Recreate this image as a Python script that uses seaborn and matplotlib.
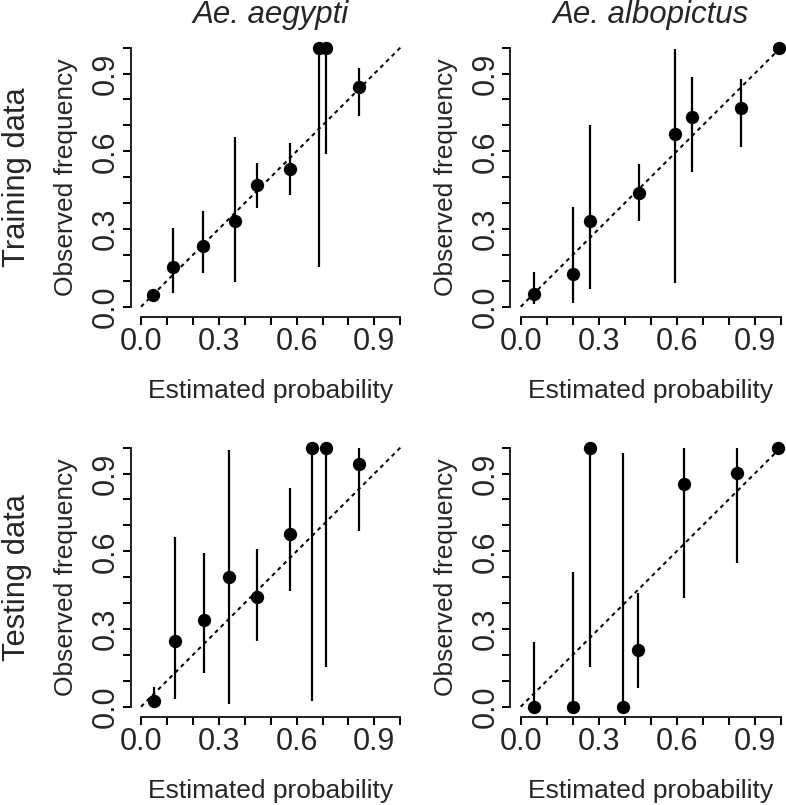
import numpy as np
import pandas as pd
import matplotlib
matplotlib.use("Agg")
import matplotlib.pyplot as plt
import seaborn as sns

# Ae. aegypti - training data
aeg_train_est = [0.048, 0.122, 0.240, 0.362, 0.447, 0.575, 0.688, 0.713, 0.842]
aeg_train_obs = [0.045, 0.154, 0.236, 0.332, 0.468, 0.532, 1.0, 1.0, 0.847]
aeg_train_lo = [np.nan, 0.054, 0.129, 0.094, 0.380, 0.431, 0.154, 0.588, 0.736]
aeg_train_hi = [np.nan, 0.305, 0.371, 0.654, 0.553, 0.631, 1.0, 1.0, 0.920]

# Ae. albopictus - training data
alb_train_est = [0.051, 0.200, 0.268, 0.456, 0.594, 0.660, 0.847, 0.994]
alb_train_obs = [0.048, 0.125, 0.332, 0.440, 0.668, 0.731, 0.766, 1.0]
alb_train_lo = [0.009, 0.013, 0.069, 0.332, 0.090, 0.519, 0.618, np.nan]
alb_train_hi = [0.133, 0.386, 0.703, 0.550, 0.994, 0.885, 0.879, np.nan]

# Ae. aegypti - testing data
aeg_test_est = [0.049, 0.130, 0.242, 0.341, 0.447, 0.575, 0.658, 0.712, 0.842]
aeg_test_obs = [0.021, 0.252, 0.333, 0.501, 0.425, 0.668, 1.0, 1.0, 0.937]
aeg_test_lo = [0.0, 0.028, 0.131, 0.010, 0.252, 0.445, 0.022, 0.154, 0.678]
aeg_test_hi = [0.075, 0.654, 0.592, 0.991, 0.610, 0.846, 1.0, 1.0, 1.0]

# Ae. albopictus - testing data
alb_test_est = [0.051, 0.200, 0.268, 0.392, 0.450, 0.628, 0.831, 0.991]
alb_test_obs = [0.0, 0.0, 1.0, 0.0, 0.219, 0.858, 0.903, 1.0]
alb_test_lo = [0.0, 0.0, 0.154, 0.0, 0.073, 0.420, 0.553, np.nan]
alb_test_hi = [0.248, 0.521, 1.0, 0.981, 0.440, 1.0, 1.0, np.nan]

species = ["Ae. aegypti", "Ae. albopictus"]
rows = ["Training data", "Testing data"]
tick_vals = [round(0.1 * i, 1) for i in range(11)]
tick_text = ["0.0", "", "", "0.3", "", "", "0.6", "", "", "0.9", ""]

sns.set_style("ticks")
plt.rcParams["font.family"] = ["Liberation Sans", "DejaVu Sans"]

W, H = 786, 805
fig = plt.figure(figsize=(W / 100, H / 100), dpi=100)

# axes boxes in pixels (left, top, right, bottom)
boxes = [
    [(130.6, 37.3, 410.7, 317.1), (510.3, 37.3, 791.1, 317.1)],
    [(130.6, 437.3, 410.7, 717.1), (510.3, 437.3, 791.1, 717.1)],
]

panels = [
    [(aeg_train_est, aeg_train_obs, aeg_train_lo, aeg_train_hi),
     (alb_train_est, alb_train_obs, alb_train_lo, alb_train_hi)],
    [(aeg_test_est, aeg_test_obs, aeg_test_lo, aeg_test_hi),
     (alb_test_est, alb_test_obs, alb_test_lo, alb_test_hi)],
]

lw = 1.45

for r in range(2):
    for c in range(2):
        l, t, rr, b = boxes[r][c]
        ax = fig.add_axes([l / W, 1 - b / H, (rr - l) / W, (b - t) / H])
        est, obs, lo, hi = panels[r][c]
        df = pd.DataFrame({"est": est, "obs": obs, "lo": lo, "hi": hi})

        ax.plot([0, 1], [0, 1], color="black", lw=lw, ls=(0, (2, 2)), zorder=1)
        eb = df.dropna()
        ax.vlines(eb["est"], eb["lo"], eb["hi"], color="black", lw=lw * 1.1, zorder=2)
        sns.scatterplot(data=df, x="est", y="obs", ax=ax, color="black",
                        s=92, linewidth=0, zorder=3, clip_on=False)

        ax.set_xlim(-0.04, 1.04)
        ax.set_ylim(-0.04, 1.04)
        ax.set_xlabel("")
        ax.set_ylabel("")
        for s in ["top", "right"]:
            ax.spines[s].set_visible(False)
        for s in ["left", "bottom"]:
            ax.spines[s].set_bounds(0, 1)
            ax.spines[s].set_linewidth(lw)
        ax.set_xticks(tick_vals)
        ax.set_xticklabels(tick_text)
        ax.set_yticks(tick_vals)
        ax.set_yticklabels(tick_text, rotation=90, va="center")
        ax.tick_params(direction="out", length=5.8, width=lw, labelsize=22,
                       pad=1, color="black")
        ax.patch.set_alpha(0)

        cx = (l + rr) / 2
        cy = (t + b) / 2
        fig.text(cx / W, 1 - (t + 361) / H, "Estimated probability",
                 fontsize=19, ha="center", va="baseline")
        fig.text((l - 57.6) / W, 1 - cy / H, "Observed frequency",
                 fontsize=19, rotation=90, rotation_mode="anchor",
                 ha="center", va="baseline")
        if r == 0:
            fig.text(cx / W, 1 - 23 / H, species[c], fontsize=22.5,
                     style="italic", ha="center", va="baseline")
        if c == 0:
            fig.text(25 / W, 1 - cy / H, rows[r], fontsize=22.2,
                     rotation=90, rotation_mode="anchor",
                     ha="center", va="baseline")

fig.savefig("out.png", dpi=100)
